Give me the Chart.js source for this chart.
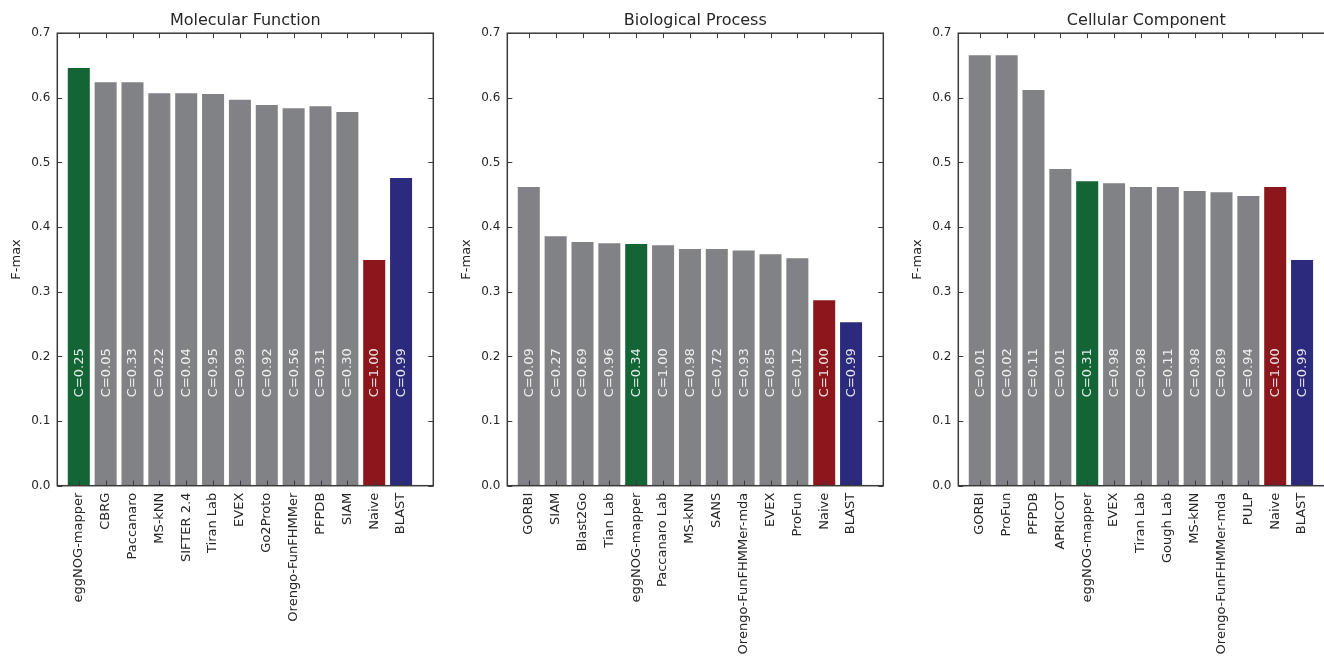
<!DOCTYPE html>
<html>
<head>
<meta charset="utf-8">
<script src="https://cdn.jsdelivr.net/npm/chart.js@4.4.1/dist/chart.umd.min.js"></script>
<style>
  html, body { margin: 0; padding: 0; background: #fff; overflow: hidden; }
  .panel { position: absolute; top: 0; width: 450px; height: 661px; }
</style>
</head>
<body>
<div class="panel" style="left:0px"><canvas id="chart-mf"></canvas></div>
<div class="panel" style="left:450.33px"><canvas id="chart-bp"></canvas></div>
<div class="panel" style="left:900.67px"><canvas id="chart-cc"></canvas></div>
<script>
// ===== DATA =====
const yTicks = [0.0, 0.1, 0.2, 0.3, 0.4, 0.5, 0.6, 0.7];

const mfMethods = ['eggNOG-mapper', 'CBRG', 'Paccanaro', 'MS-kNN', 'SIFTER 2.4', 'Tiran Lab', 'EVEX', 'Go2Proto', 'Orengo-FunFHMMer', 'PFPDB', 'SIAM', 'Naive', 'BLAST'];
const mfFmax = [0.646, 0.624, 0.624, 0.607, 0.607, 0.606, 0.597, 0.589, 0.584, 0.587, 0.578, 0.349, 0.476];
const mfCoverage = [0.25, 0.05, 0.33, 0.22, 0.04, 0.95, 0.99, 0.92, 0.56, 0.31, 0.30, 1.00, 0.99];

const bpMethods = ['GORBI', 'SIAM', 'Blast2Go', 'Tian Lab', 'eggNOG-mapper', 'Paccanaro Lab', 'MS-kNN', 'SANS', 'Orengo-FunFHMMer-mda', 'EVEX', 'ProFun', 'Naive', 'BLAST'];
const bpFmax = [0.462, 0.386, 0.377, 0.375, 0.374, 0.372, 0.366, 0.366, 0.364, 0.358, 0.352, 0.287, 0.253];
const bpCoverage = [0.09, 0.27, 0.69, 0.96, 0.34, 1.00, 0.98, 0.72, 0.93, 0.85, 0.12, 1.00, 0.99];

const ccMethods = ['GORBI', 'ProFun', 'PFPDB', 'APRICOT', 'eggNOG-mapper', 'EVEX', 'Tiran Lab', 'Gough Lab', 'MS-kNN', 'Orengo-FunFHMMer-mda', 'PULP', 'Naive', 'BLAST'];
const ccFmax = [0.666, 0.666, 0.612, 0.490, 0.471, 0.468, 0.462, 0.462, 0.456, 0.454, 0.448, 0.462, 0.349];
const ccCoverage = [0.01, 0.02, 0.11, 0.01, 0.31, 0.98, 0.98, 0.11, 0.98, 0.89, 0.94, 1.00, 0.99];

// ===== STYLE =====
const GREY = '#818285';
const GREEN = '#136535';
const RED = '#8b161b';
const BLUE = '#2b2a7c';
const AXIS = '#3a3a3a';
const TEXT = '#262626';

Chart.defaults.font.family = "'DejaVu Sans', sans-serif";
Chart.defaults.color = TEXT;
Chart.defaults.animation = false;

function barColor(name) {
  if (name === 'eggNOG-mapper') return GREEN;
  if (name === 'Naive') return RED;
  if (name === 'BLAST') return BLUE;
  return GREY;
}

// matplotlib-ish frame: four spines, ticks pointing inward
const framePlugin = {
  id: 'frame',
  afterDraw(chart) {
    const { ctx, chartArea: a, scales: { x, y } } = chart;
    ctx.save();
    ctx.strokeStyle = AXIS;
    ctx.lineWidth = 1;
    const len = 5;
    x.ticks.forEach(t => {
      const px = Math.round(x.getPixelForValue(t.value)) + 0.5;
      ctx.beginPath();
      ctx.moveTo(px, a.bottom); ctx.lineTo(px, a.bottom - len);
      ctx.moveTo(px, a.top); ctx.lineTo(px, a.top + len);
      ctx.stroke();
    });
    y.ticks.forEach(t => {
      const py = Math.round(y.getPixelForValue(t.value)) + 0.5;
      ctx.beginPath();
      ctx.moveTo(a.left, py); ctx.lineTo(a.left + len, py);
      ctx.moveTo(a.right, py); ctx.lineTo(a.right - len, py);
      ctx.stroke();
    });
    ctx.lineWidth = 1.5;
    ctx.strokeRect(a.left, a.top, a.right - a.left, a.bottom - a.top);
    ctx.restore();
  }
};

// "C=..." labels written vertically inside each bar
const coveragePlugin = {
  id: 'coverage',
  afterDatasetsDraw(chart, args, opts) {
    const { ctx, scales: { y } } = chart;
    const meta = chart.getDatasetMeta(0);
    const py = y.getPixelForValue(0.137);
    ctx.save();
    ctx.fillStyle = 'rgba(255,255,255,0.88)';
    ctx.font = "13px 'DejaVu Sans', sans-serif";
    ctx.textAlign = 'left';
    ctx.textBaseline = 'middle';
    meta.data.forEach((bar, i) => {
      ctx.save();
      ctx.translate(bar.x + 0.5, py);
      ctx.rotate(-Math.PI / 2);
      ctx.fillText('C=' + opts.values[i].toFixed(2), 0, 0);
      ctx.restore();
    });
    ctx.restore();
  }
};

function makeChart(id, title, methods, fmax, coverage) {
  const ctx = document.getElementById(id);
  return new Chart(ctx, {
    type: 'bar',
    data: {
      datasets: [{
        data: methods.map((m, i) => ({ x: i, y: fmax[i] })),
        backgroundColor: methods.map(barColor),
        borderWidth: 0,
        barPercentage: 0.82,
        categoryPercentage: 1.0
      }]
    },
    options: {
      responsive: true,
      maintainAspectRatio: false,
      layout: { padding: { left: 0, right: 16.7, top: 0, bottom: 0 } },
      plugins: {
        legend: { display: false },
        tooltip: { enabled: false },
        title: {
          display: true,
          fullSize: false,   // centre over the plot area, like matplotlib
          text: title,
          color: TEXT,
          font: { size: 16, weight: 'normal' },
          padding: { top: 11, bottom: 3 }
        },
        coverage: { values: coverage }
      },
      scales: {
        x: {
          type: 'linear',
          min: -0.8,
          max: 13.2,
          offset: false,
          grid: { display: false, drawTicks: false, offset: false },
          border: { display: false },
          afterBuildTicks: (scale) => {
            scale.ticks = methods.map((m, i) => ({ value: i }));
          },
          afterFit: (scale) => { scale.height = 175.3; },
          ticks: {
            autoSkip: false,
            minRotation: 90,
            maxRotation: 90,
            padding: 7,
            color: TEXT,
            font: { size: 13 },
            callback: (v) => methods[v]
          }
        },
        y: {
          min: 0,
          max: 0.7,
          grid: { display: false, drawTicks: false },
          border: { display: false },
          afterBuildTicks: (scale) => {
            scale.ticks = yTicks.map(v => ({ value: v }));
          },
          afterFit: (scale) => { scale.width = 57.3; },
          title: {
            display: true,
            text: 'F-max',
            color: TEXT,
            font: { size: 13 },
            padding: { top: 9, bottom: 0 }
          },
          ticks: {
            padding: 7,
            color: TEXT,
            font: { size: 12 },
            callback: (v) => Number(v).toFixed(1)
          }
        }
      }
    },
    plugins: [framePlugin, coveragePlugin]
  });
}

makeChart('chart-mf', 'Molecular Function', mfMethods, mfFmax, mfCoverage);
makeChart('chart-bp', 'Biological Process', bpMethods, bpFmax, bpCoverage);
makeChart('chart-cc', 'Cellular Component', ccMethods, ccFmax, ccCoverage);
</script>
</body>
</html>
